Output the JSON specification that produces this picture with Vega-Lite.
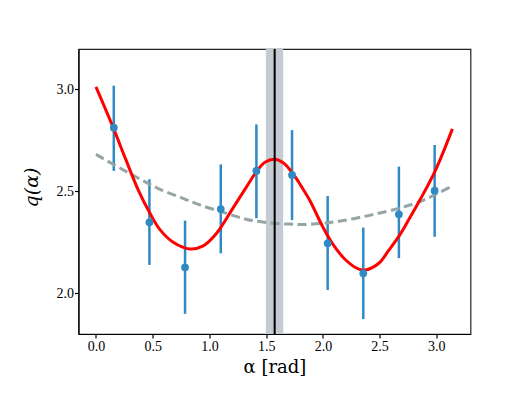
{
  "$schema": "https://vega.github.io/schema/vega-lite/v6.json",
  "width": 392,
  "height": 285,
  "autosize": "none",
  "padding": {"left": 78.5, "top": 49, "right": 52.5, "bottom": 74},
  "background": "white",
  "config": {
    "view": {"stroke": "#222", "strokeWidth": 1.2},
    "axis": {
      "grid": false,
      "domainColor": "#000",
      "domainWidth": 1.2,
      "tickColor": "#000",
      "tickWidth": 1.2,
      "tickSize": 4,
      "labelFont": "Liberation Serif",
      "labelFontSize": 14,
      "labelColor": "#000",
      "labelPadding": 1,
      "titleFont": "DejaVu Serif",
      "titleFontWeight": "normal",
      "titleColor": "#000",
      "titleFontSize": 19
    }
  },
  "datasets": {
    "band": [{"lo": 1.497, "hi": 1.650}],
    "vline": [{"x": 1.575}],
    "points": [
      {"x": 0.157, "y": 2.812, "lo": 2.600, "hi": 3.018},
      {"x": 0.471, "y": 2.348, "lo": 2.139, "hi": 2.559},
      {"x": 0.785, "y": 2.127, "lo": 1.899, "hi": 2.356},
      {"x": 1.100, "y": 2.413, "lo": 2.196, "hi": 2.632},
      {"x": 1.414, "y": 2.600, "lo": 2.368, "hi": 2.828},
      {"x": 1.728, "y": 2.580, "lo": 2.359, "hi": 2.800},
      {"x": 2.042, "y": 2.245, "lo": 2.016, "hi": 2.477},
      {"x": 2.356, "y": 2.098, "lo": 1.873, "hi": 2.322},
      {"x": 2.670, "y": 2.387, "lo": 2.172, "hi": 2.621},
      {"x": 2.985, "y": 2.503, "lo": 2.277, "hi": 2.727}
    ],
    "red": [
      {"x": 0.000, "y": 3.012},
      {"x": 0.152, "y": 2.812},
      {"x": 0.260, "y": 2.660},
      {"x": 0.373, "y": 2.506},
      {"x": 0.476, "y": 2.392},
      {"x": 0.564, "y": 2.312},
      {"x": 0.681, "y": 2.250},
      {"x": 0.828, "y": 2.217},
      {"x": 0.945, "y": 2.232},
      {"x": 1.063, "y": 2.294},
      {"x": 1.210, "y": 2.420},
      {"x": 1.328, "y": 2.523},
      {"x": 1.416, "y": 2.598},
      {"x": 1.490, "y": 2.642},
      {"x": 1.570, "y": 2.657},
      {"x": 1.650, "y": 2.640},
      {"x": 1.738, "y": 2.585},
      {"x": 1.810, "y": 2.524},
      {"x": 1.885, "y": 2.455},
      {"x": 1.995, "y": 2.330},
      {"x": 2.083, "y": 2.245},
      {"x": 2.201, "y": 2.163},
      {"x": 2.317, "y": 2.118},
      {"x": 2.376, "y": 2.114},
      {"x": 2.493, "y": 2.147},
      {"x": 2.580, "y": 2.210},
      {"x": 2.678, "y": 2.286},
      {"x": 2.765, "y": 2.369},
      {"x": 2.855, "y": 2.457},
      {"x": 2.993, "y": 2.604},
      {"x": 3.1416, "y": 2.806}
    ],
    "gray": [
      {"x": 0.000, "y": 2.681},
      {"x": 0.150, "y": 2.633},
      {"x": 0.300, "y": 2.587},
      {"x": 0.450, "y": 2.541},
      {"x": 0.564, "y": 2.510},
      {"x": 0.750, "y": 2.469},
      {"x": 0.916, "y": 2.433},
      {"x": 1.150, "y": 2.392},
      {"x": 1.330, "y": 2.362},
      {"x": 1.500, "y": 2.347},
      {"x": 1.700, "y": 2.339},
      {"x": 1.880, "y": 2.338},
      {"x": 2.120, "y": 2.351},
      {"x": 2.410, "y": 2.382},
      {"x": 2.680, "y": 2.418},
      {"x": 2.890, "y": 2.457},
      {"x": 3.000, "y": 2.487},
      {"x": 3.1416, "y": 2.526}
    ]
  },
  "layer": [
    {
      "data": {"name": "band"},
      "mark": {"type": "rect", "color": "#c5cbd3", "opacity": 1},
      "encoding": {
        "x": {"field": "lo", "type": "quantitative", "scale": {"domain": [-0.154, 3.301], "nice": false, "zero": false},
              "axis": {"values": [0, 0.5, 1, 1.5, 2, 2.5, 3], "format": ".1f", "title": "α [rad]", "titleBaseline": "alphabetic", "titleY": 38, "titleFontSize": 18}},
        "x2": {"field": "hi"}
      }
    },
    {
      "data": {"name": "points"},
      "mark": {"type": "rule", "color": "#2f8ac4", "strokeWidth": 2.5},
      "encoding": {
        "x": {"field": "x", "type": "quantitative", "scale": {"domain": [-0.154, 3.301], "nice": false, "zero": false}},
        "y": {"field": "lo", "type": "quantitative", "scale": {"domain": [1.80, 3.198], "nice": false, "zero": false},
              "axis": {"values": [2, 2.5, 3], "format": ".1f", "title": "q(α)", "titleFontStyle": "italic", "titleX": -47, "titleY": 138, "titleAngle": -90, "titleAlign": "center", "titleBaseline": "middle"}},
        "y2": {"field": "hi"}
      }
    },
    {
      "data": {"name": "gray"},
      "mark": {"type": "line", "color": "#95a5a6", "strokeWidth": 3, "strokeDash": [9, 4.5], "interpolate": "catmull-rom"},
      "encoding": {
        "x": {"field": "x", "type": "quantitative", "scale": {"domain": [-0.154, 3.301], "nice": false, "zero": false}},
        "y": {"field": "y", "type": "quantitative", "scale": {"domain": [1.80, 3.198], "nice": false, "zero": false}}
      }
    },
    {
      "data": {"name": "red"},
      "mark": {"type": "line", "color": "#ff0000", "strokeWidth": 3, "interpolate": "catmull-rom"},
      "encoding": {
        "x": {"field": "x", "type": "quantitative", "scale": {"domain": [-0.154, 3.301], "nice": false, "zero": false}},
        "y": {"field": "y", "type": "quantitative", "scale": {"domain": [1.80, 3.198], "nice": false, "zero": false}}
      }
    },
    {
      "data": {"name": "vline"},
      "mark": {"type": "rule", "color": "#000", "strokeWidth": 2},
      "encoding": {
        "x": {"field": "x", "type": "quantitative", "scale": {"domain": [-0.154, 3.301], "nice": false, "zero": false}}
      }
    },
    {
      "data": {"name": "points"},
      "mark": {"type": "circle", "color": "#2f8ac4", "opacity": 1, "size": 60},
      "encoding": {
        "x": {"field": "x", "type": "quantitative", "scale": {"domain": [-0.154, 3.301], "nice": false, "zero": false}},
        "y": {"field": "y", "type": "quantitative", "scale": {"domain": [1.80, 3.198], "nice": false, "zero": false}}
      }
    }
  ]
}
